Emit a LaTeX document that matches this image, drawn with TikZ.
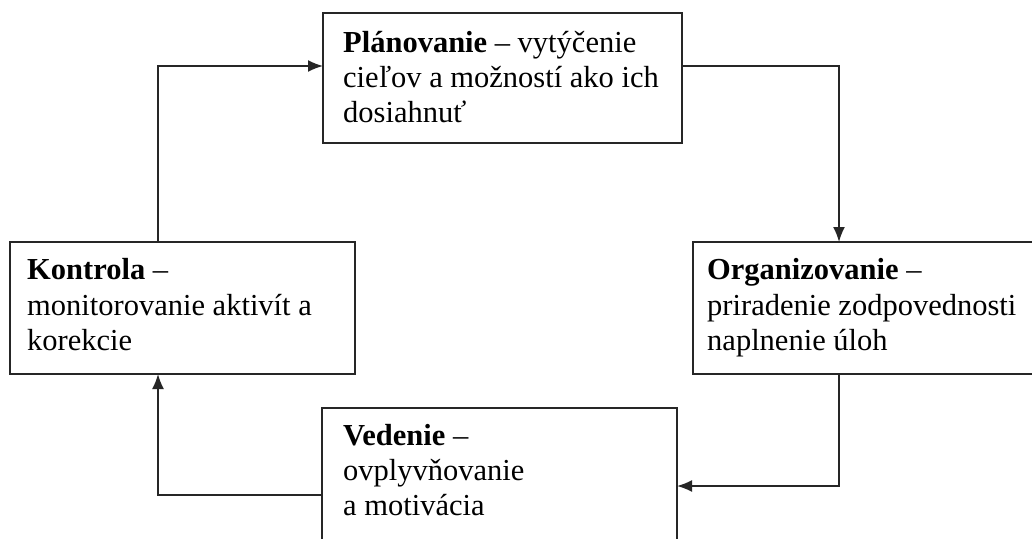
\documentclass[tikz,border=0pt]{standalone}
\usepackage{fontspec}
\setmainfont{Liberation Serif}
\usetikzlibrary{arrows.meta}
\begin{document}
\begin{tikzpicture}[x=1pt,y=-1pt,
  box/.style={draw=black!85, line width=1.7pt, fill=white, anchor=north west,
    inner sep=0pt, outer sep=0pt},
  txt/.style={anchor=base west, inner sep=0pt, font=\fontsize{30.5}{35}\selectfont},
  arr/.style={draw=black!85, line width=1.7pt,
    -{Latex[length=15pt,width=12pt]}}]
\useasboundingbox (0,0) rectangle (1032,538);
\clip (0,0) rectangle (1032,538);
\fill[white] (0,0) rectangle (1032,538);

% the four management functions
\node[box, minimum width=359pt, minimum height=130pt] (plan) at (323,13) {};
\node[box, minimum width=345pt, minimum height=132pt] (kon)  at (10,242) {};
\node[box, minimum width=360pt, minimum height=132pt] (org)  at (693,242) {};
\node[box, minimum width=355pt, minimum height=150pt] (ved)  at (322,408) {};

% box texts, one line per node
\node[txt] (plan1) at (343,52)  {\textbf{Plánovanie} – vytýčenie};
\node[txt] (plan2) at (343,87)  {cieľov a možností ako ich};
\node[txt] (plan3) at (343,122) {dosiahnuť};

\node[txt] (kon1) at (27,279) {\textbf{Kontrola} –};
\node[txt] (kon2) at (27,315) {monitorovanie aktivít a};
\node[txt] (kon3) at (27,350) {korekcie};

\node[txt] (org1) at (707,279) {\textbf{Organizovanie} –};
\node[txt] (org2) at (707,315) {priradenie zodpovednosti};
\node[txt] (org3) at (707,350) {naplnenie úloh};

\node[txt] (ved1) at (343,445) {\textbf{Vedenie} –};
\node[txt] (ved2) at (343,480) {ovplyvňovanie};
\node[txt] (ved3) at (343,515) {a motivácia};

% corners of the cycle
\coordinate (k1) at (158,66);
\coordinate (p1) at (839,66);
\coordinate (o1) at (839,486);
\coordinate (v1) at (158,495);

\draw[arr] (k1 |- kon.north) -- (k1) -- (k1 -| plan.west);
\draw[arr] (p1 -| plan.east) -- (p1) -- (p1 |- org.north);
\draw[arr] (o1 |- org.south) -- (o1) -- (o1 -| ved.east);
\draw[arr] (v1 -| ved.west) -- (v1) -- (v1 |- kon.south);
\end{tikzpicture}
\end{document}
